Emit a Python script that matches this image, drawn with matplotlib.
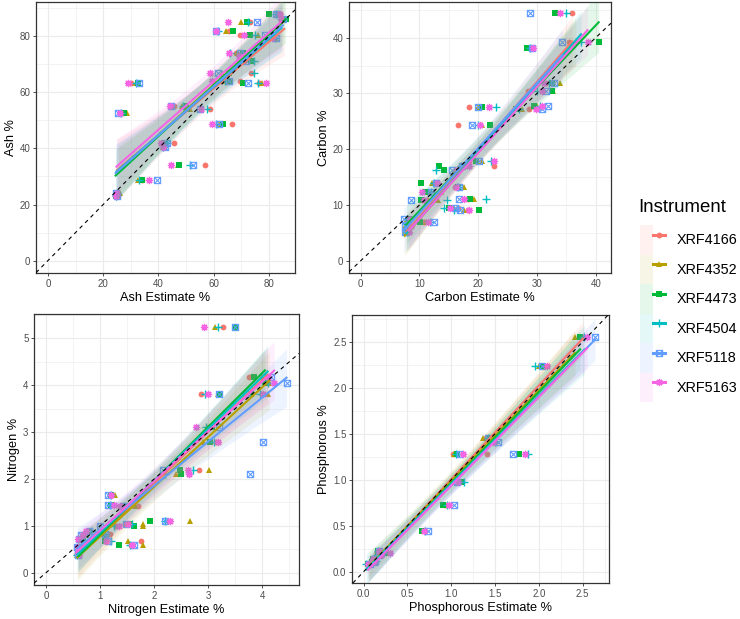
import numpy as np
import matplotlib
matplotlib.use("Agg")
import matplotlib.pyplot as plt
from matplotlib.path import Path
from matplotlib.lines import Line2D
from matplotlib.patches import Patch
from matplotlib.legend_handler import HandlerTuple
from matplotlib.ticker import MultipleLocator

plt.rcParams['font.family'] = ['Liberation Sans', 'DejaVu Sans']

instruments = ["XRF4166", "XRF4352", "XRF4473", "XRF4504", "XRF5118", "XRF5163"]
colors = ["#F8766D", "#B79F00", "#00BA38", "#00BFC4", "#619CFF", "#F564E3"]

# measured value (y) per sample, and estimate (x) per instrument, same order as instruments
ash_true = [88, 86, 85, 82, 80.5, 79.5, 74, 73, 71.3, 67, 64.2, 63.3, 63.3, 55.2,
            54.2, 52.8, 48.7, 41.8, 40.5, 34.2, 28.8, 24, 23]
ash_est = [
    [83, 83.5, 80, 82.5, 82.5, 84],
    [85.5, 85, 86, 84.5, 85, 84.5],
    [73, 70, 72, 72.5, 75.5, 65],
    [65.5, 64.5, 67, 61.5, 61, 61],
    [69.5, 76, 73, 75, 78.5, 71],
    [80, 82, 81, 82, 82.5, 81],
    [68, 68.5, 70.5, 66, 69.5, 65.5],
    [70, 71, 72, 70.5, 71.5, 69],
    [71, 70, 73.5, 74.5, 71.5, 69.5],
    [73.5, 63, 65.5, 74.5, 61.5, 58.5],
    [69.5, 63, 66, 64, 65.5, 59.5],
    [30, 32, 32.5, 32, 33, 29],
    [76.5, 77.5, 70.5, 76, 72.5, 79],
    [45.5, 48.5, 50, 49, 44.5, 44],
    [58.5, 51.5, 50.5, 57.5, 55, 55.5],
    [27, 28.5, 27.5, 26.5, 25.5, 26],
    [66.5, 62, 63.5, 61, 62, 59.5],
    [45.5, 42, 42.5, 43, 43, 41],
    [42, 41.5, 42, 41.5, 42.5, 41.5],
    [57, 47, 47.5, 51.5, 52.5, 44.5],
    [34, 32.5, 34, 33, 39.5, 36.5],
    [25, 26, 25, 25, 24.5, 25],
    [25.5, 25.5, 24.5, 24.8, 25, 24.8],
]

carbon_true = [44.4, 39.2, 38.1, 31.9, 30.5, 27.7, 27.3, 27.6, 24.3, 17.9, 16.9, 16.2,
               13.9, 13.3, 12.3, 10.9, 11.1, 9.4, 9.1, 7.0, 7.5, 6.2, 5.2]
carbon_est = [
    [36, 33.5, 33, 35, 28.8, 34],
    [35.5, 36.6, 40.5, 37.5, 34.3, 38.6],
    [28.8, 28.5, 28.3, 28.8, 29.2, 29.4],
    [31.5, 34, 32.5, 32, 32.9, 31.2],
    [28.4, 32.8, 32.5, 30, 31.5, 30.9],
    [29.5, 30, 29.5, 30.5, 31.9, 30.9],
    [28.6, 27.5, 26.4, 27, 30.9, 29.8],
    [18.4, 20, 20.7, 23, 19.9, 21.8],
    [16.5, 20.7, 22, 20, 19, 20.3],
    [18.4, 20.7, 19.7, 22.1, 20.1, 22.6],
    [22.6, 17.5, 13.3, 17, 17.3, 18.5],
    [16.5, 16, 14.2, 12.8, 15.5, 16.3],
    [12.9, 12.2, 10.2, 12.5, 12.8, 13],
    [16, 17.5, 16.5, 16.6, 16.7, 16.2],
    [11.5, 13.6, 11.1, 12, 11.9, 10.5],
    [11.3, 13.2, 10.2, 14.6, 8.5, 10.8],
    [18.3, 19.3, 18.6, 21.3, 16.7, 17.5],
    [16.5, 15.8, 15, 14.2, 16, 15.2],
    [18.2, 17.5, 20.1, 15.9, 16.9, 18.5],
    [10.8, 11.1, 10.1, 11.8, 12.5, 11.5],
    [8, 7.8, 8.2, 7.8, 7.3, 8.3],
    [8, 7.5, 7.8, 8, 7.6, 8.5],
    [7.8, 7.6, 8, 7.8, 7.5, 8.2],
]

nitrogen_true = [5.25, 4.17, 4.04, 3.82, 3.82, 3.1, 2.8, 2.2, 2.1, 1.65, 1.45, 1.42,
                 1.1, 1.05, 1.0, 0.82, 0.68, 0.6, 0.9, 0.8, 0.72, 0.55, 0.45, 0.38]
nitrogen_est = [
    [3.28, 3.12, 3.5, 3.19, 3.49, 2.92],
    [3.76, 4.0, 3.85, 4.05, 4.17, 4.1],
    [4.1, 4.13, 4.05, 4.1, 4.45, 4.22],
    [2.86, 3.19, 3.22, 2.95, 3.2, 3.0],
    [4.0, 4.11, 3.8, 3.95, 3.7, 4.02],
    [3.0, 3.05, 3.08, 2.96, 3.2, 2.77],
    [3.15, 2.9, 3.04, 3.1, 4.02, 3.18],
    [2.84, 3.02, 2.48, 2.72, 2.17, 2.62],
    [2.65, 2.4, 2.5, 2.2, 3.78, 2.65],
    [1.22, 1.28, 1.2, 1.2, 1.15, 1.21],
    [1.22, 1.25, 1.2, 1.18, 1.15, 1.25],
    [1.71, 1.65, 1.5, 1.46, 1.45, 1.37],
    [2.25, 2.66, 1.92, 2.2, 2.2, 2.29],
    [1.46, 1.8, 1.55, 1.6, 1.48, 1.52],
    [1.3, 1.8, 1.63, 1.25, 1.0, 1.35],
    [1.18, 1.1, 1.05, 1.1, 1.1, 0.95],
    [1.76, 1.52, 1.1, 1.21, 1.15, 1.12],
    [1.58, 1.8, 1.36, 1.55, 1.62, 1.6],
    [0.78, 0.82, 0.8, 0.85, 0.8, 0.75],
    [0.7, 0.75, 0.72, 0.7, 0.65, 0.68],
    [0.65, 0.7, 0.68, 0.65, 0.62, 0.6],
    [0.62, 0.6, 0.63, 0.6, 0.58, 0.6],
    [0.6, 0.58, 0.6, 0.62, 0.6, 0.6],
    [0.6, 0.58, 0.6, 0.58, 0.6, 0.62],
]

phos_true = [2.55, 2.24, 1.45, 1.41, 1.28, 1.28, 0.97, 0.72, 0.44, 0.2, 0.22, 0.18,
             0.14, 0.12, 0.11, 0.08]
phos_est = [
    [2.5, 2.41, 2.47, 2.52, 2.64, 2.55],
    [2.02, 2.0, 2.03, 1.96, 2.04, 2.09],
    [1.4, 1.36, 1.44, 1.42, 1.42, 1.46],
    [1.5, 1.45, 1.47, 1.5, 1.53, 1.48],
    [1.02, 1.03, 1.07, 1.05, 1.1, 1.13],
    [1.41, 1.85, 1.77, 1.88, 1.71, 1.84],
    [1.0, 1.0, 1.11, 1.15, 1.06, 1.08],
    [0.93, 0.92, 0.91, 0.95, 1.03, 0.97],
    [0.7, 0.68, 0.67, 0.7, 0.74, 0.69],
    [0.22, 0.2, 0.26, 0.22, 0.2, 0.3],
    [0.15, 0.15, 0.16, 0.16, 0.17, 0.18],
    [0.15, 0.14, 0.16, 0.15, 0.18, 0.2],
    [0.1, 0.1, 0.11, 0.12, 0.12, 0.11],
    [0.12, 0.12, 0.13, 0.14, 0.13, 0.12],
    [0.08, 0.09, 0.1, 0.08, 0.12, 0.1],
    [0.05, 0.06, 0.05, 0.03, 0.07, 0.05],
]

# ggplot-ish shapes: circle, triangle, square, plus, square-cross, asterisk
box_cross = Path([(-1, -1), (1, -1), (1, 1), (-1, 1), (-1, -1), (-1, -1), (1, 1), (-1, 1), (1, -1)],
                 [Path.MOVETO, Path.LINETO, Path.LINETO, Path.LINETO, Path.CLOSEPOLY,
                  Path.MOVETO, Path.LINETO, Path.MOVETO, Path.LINETO])
mstyle = [
    dict(marker='o', ms=4.2, mew=0),
    dict(marker='^', ms=4.8, mew=0),
    dict(marker='s', ms=4.0, mew=0),
    dict(marker='+', ms=5.5, mew=1.0),
    dict(marker=box_cross, ms=4.5, mew=0.8, mfc='none'),
    dict(marker=(8, 2, 0), ms=5.2, mew=0.9),
]


def tq(df):
    # rough 97.5% t quantile
    return 1.96 + 2.4 / df + 3.0 / df ** 2


def panel(ax, true, est, xlim, ylim, xstep, ystep, xlab, ylab):
    y = np.array(true, float)
    X = np.array(est, float)
    ax.xaxis.set_major_locator(MultipleLocator(xstep))
    ax.xaxis.set_minor_locator(MultipleLocator(xstep / 2))
    ax.yaxis.set_major_locator(MultipleLocator(ystep))
    ax.yaxis.set_minor_locator(MultipleLocator(ystep / 2))
    ax.grid(which='major', color='#EBEBEB', lw=0.8)
    ax.grid(which='minor', color='#EBEBEB', lw=0.4)
    ax.set_axisbelow(True)
    for i in range(len(instruments)):
        ax.plot(X[:, i], y, ls='none', color=colors[i], zorder=2, **mstyle[i])
    for i in range(len(instruments)):
        x = X[:, i]
        b, a = np.polyfit(x, y, 1)
        n = len(x)
        resid = y - (a + b * x)
        s = np.sqrt(np.sum(resid ** 2) / (n - 2))
        xs = np.linspace(x.min(), x.max(), 80)
        yh = a + b * xs
        se = s * np.sqrt(1 / n + (xs - x.mean()) ** 2 / np.sum((x - x.mean()) ** 2))
        ax.fill_between(xs, yh - tq(n - 2) * se, yh + tq(n - 2) * se,
                        color=colors[i], alpha=0.1, lw=0, zorder=3)
        ax.plot(xs, yh, color=colors[i], lw=1.5, zorder=4)
    ax.axline((0, 0), slope=1, color='black', ls=(0, (3.5, 3.5)), lw=0.8, zorder=5)
    ax.set_xlim(*xlim)
    ax.set_ylim(*ylim)
    ax.set_xlabel(xlab, fontsize=9.2, labelpad=2.5)
    ax.set_ylabel(ylab, fontsize=9.2, labelpad=2)
    ax.tick_params(which='major', length=2.5, width=0.6, color='#333333',
                   labelsize=7, labelcolor='#4D4D4D', pad=1.5)
    ax.tick_params(which='minor', length=0)
    for sp in ax.spines.values():
        sp.set_color('#333333')
        sp.set_linewidth(0.9)


W, H = 740, 619
fig = plt.figure(figsize=(W / 100, H / 100), dpi=100)


def rect(l, t, r, b):
    return [l / W, 1 - b / H, (r - l) / W, (b - t) / H]


ax1 = fig.add_axes(rect(36, 2, 295, 273))
ax2 = fig.add_axes(rect(349, 2, 611, 273))
ax3 = fig.add_axes(rect(34, 314, 299, 585))
ax4 = fig.add_axes(rect(352, 315, 609, 583))

panel(ax1, ash_true, ash_est, (-4.3, 89.4), (-4.4, 92.2), 20, 20, "Ash Estimate %", "Ash %")
panel(ax2, carbon_true, carbon_est, (-2.0, 42.6), (-2.2, 46.4), 10, 10, "Carbon Estimate %", "Carbon %")
panel(ax3, nitrogen_true, nitrogen_est, (-0.22, 4.68), (-0.26, 5.52), 1, 1, "Nitrogen Estimate %", "Nitrogen %")
panel(ax4, phos_true, phos_est, (-0.133, 2.80), (-0.123, 2.79), 0.5, 0.5, "Phosphorous Estimate %", "Phosphorous %")

fig.text(638 / W, 1 - 207 / H, "Instrument", fontsize=13.4, va='center', ha='left')
handles = [(Patch(facecolor=c, alpha=0.1, edgecolor='none'),
            Line2D([], [], color=c, lw=2.2, **m)) for c, m in zip(colors, mstyle)]
fig.legend(handles, instruments, handler_map={tuple: HandlerTuple(ndivide=None, pad=0)},
           loc='upper left', bbox_to_anchor=(640 / W, 1 - 225 / H), frameon=False,
           fontsize=10.4, handlelength=1.74, handleheight=2.77, labelspacing=0,
           handletextpad=0.83, borderpad=0, borderaxespad=0)

fig.savefig("out.png", dpi=100)
